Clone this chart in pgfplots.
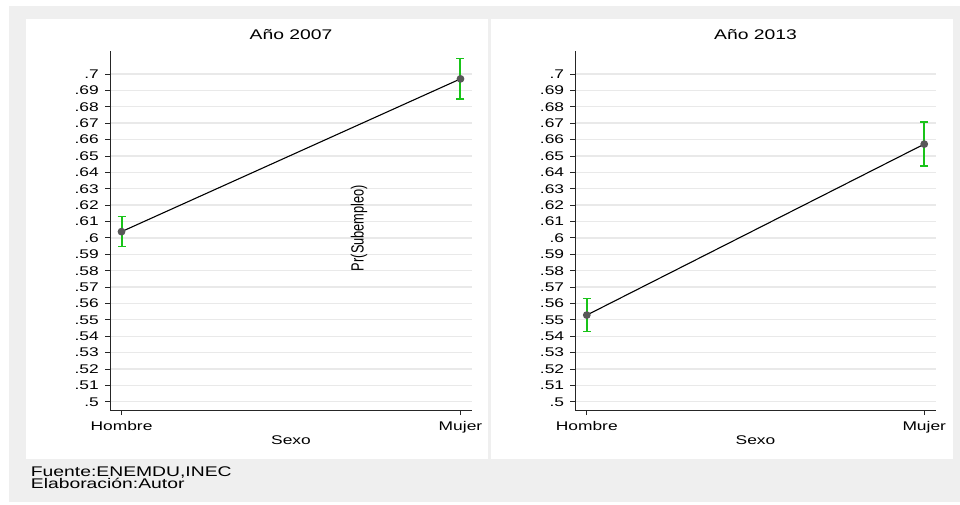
\documentclass[border=0pt]{standalone}
\usepackage{fontspec}
\setmainfont{Liberation Sans}[FakeStretch=1.38]
\newfontfamily\plainsans{Liberation Sans}
\usepackage{pgfplots}
\pgfplotsset{compat=1.18}

\definecolor{outerbg}{RGB}{239,239,239}
\definecolor{gridgray}{RGB}{233,233,233}
\definecolor{cigreen}{RGB}{25,195,25}
\definecolor{markgray}{RGB}{88,88,88}

\pgfplotsset{
  margplot/.style={
    scale only axis, height=359pt,
    clip=false,
    xmin=-0.034, xmax=1.034, ymin=0.495, ymax=0.714,
    axis x line=bottom, axis y line=left,
    axis line style={-, line width=0.9pt, black!85},
    xtick={0,1}, xticklabels={Hombre,Mujer},
    ytick={0.50,0.51,0.52,0.53,0.54,0.55,0.56,0.57,0.58,0.59,0.60,
           0.61,0.62,0.63,0.64,0.65,0.66,0.67,0.68,0.69,0.70},
    yticklabels={.5,.51,.52,.53,.54,.55,.56,.57,.58,.59,.6,
                 .61,.62,.63,.64,.65,.66,.67,.68,.69,.7},
    ymajorgrids, grid style={gridgray, line width=1.3pt},
    tick align=outside, major tick length=5pt,
    tick style={black!85, line width=0.8pt},
    ticklabel style={font=\fontsize{12.6}{14}\selectfont},
    yticklabel style={anchor=east, inner sep=0pt, xshift=-6pt},
    xticklabel style={anchor=base, inner sep=0pt, yshift=-15pt},
    xlabel={Sexo},
    xlabel style={font=\fontsize{12.6}{14}\selectfont, at={(0.5,0)}, anchor=base, yshift=-34pt},
    title style={font=\fontsize{14}{16}\selectfont, at={(0.5,1)}, anchor=base, yshift=6pt},
  },
  cibars/.style={
    only marks, mark=none, forget plot, draw=cigreen, line width=2pt,
    error bars/.cd, y dir=both, y explicit,
    error bar style={draw=cigreen, solid, line width=2pt},
    error mark options={draw=cigreen, solid, line width=1.5pt, mark size=4pt, rotate=90},
  },
  margline/.style={
    black, line width=1.1pt, mark=*, mark size=3.3pt,
    mark options={draw=markgray, fill=markgray},
  },
}

\begin{document}
\begin{tikzpicture}
  % page and panel backgrounds
  \fill[white] (0pt,0pt) rectangle (960pt,-504pt);
  \fill[outerbg] (9pt,-6pt) rectangle (960pt,-502pt);
  \fill[white] (26pt,-19pt) rectangle (488pt,-459pt);
  \fill[white] (491pt,-19pt) rectangle (953pt,-459pt);

  % 2007
  \begin{axis}[margplot, width=362pt, at={(110pt,-410pt)}, anchor=south west,
               title={Año 2007}]
    \addplot[cibars] coordinates {(0,0.6038) +- (0,0.0092) (1,0.6970) +- (0,0.0123)};
    \addplot[margline] coordinates {(0,0.6038) (1,0.6970)};
  \end{axis}

  % 2013
  \begin{axis}[margplot, width=360.4pt, at={(575.3pt,-410pt)}, anchor=south west,
               title={Año 2013}]
    \addplot[cibars] coordinates {(0,0.5529) +- (0,0.0100) (1,0.6572) +- (0,0.0135)};
    \addplot[margline] coordinates {(0,0.5529) (1,0.6572)};
  \end{axis}

  % shared vertical axis title
  \node[xscale=1.38, rotate=90, inner sep=0pt,
        font=\plainsans\fontsize{12.8}{14}\selectfont] at (359pt,-228pt) {Pr(Subempleo)};

  % source notes
  \node[anchor=base west, inner sep=0pt, font=\fontsize{14}{16}\selectfont]
    at (30.7pt,-476pt) {Fuente:ENEMDU,INEC};
  \node[anchor=base west, inner sep=0pt, font=\fontsize{14}{16}\selectfont]
    at (30.7pt,-488.5pt) {Elaboración:Autor};
\end{tikzpicture}
\end{document}
